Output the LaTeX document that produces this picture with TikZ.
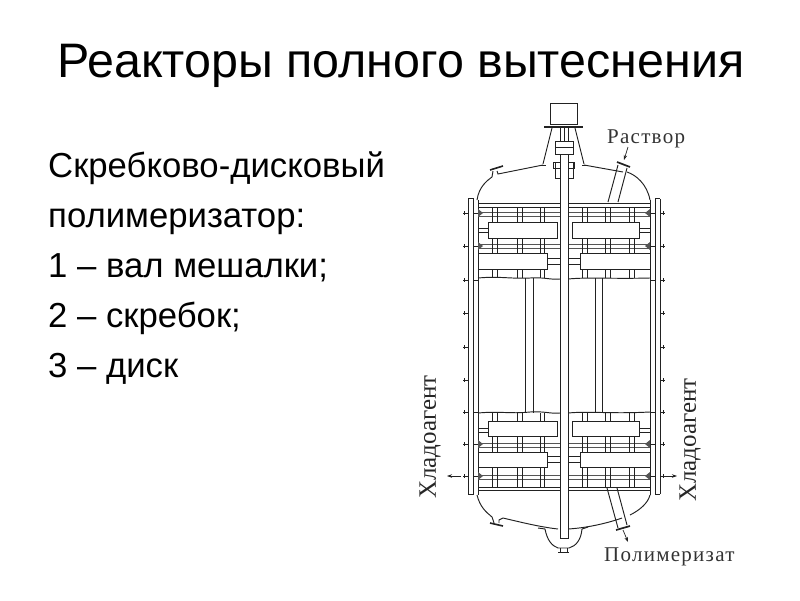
\documentclass[tikz,border=0pt]{standalone}
\usepackage{fontspec}
\setmainfont{Liberation Sans}
\newfontfamily\lblfont[LetterSpace=6]{Liberation Serif}
\newfontfamily\sidefont{Liberation Serif}
\definecolor{ink}{HTML}{222222}
\definecolor{soft}{HTML}{555555}
\usetikzlibrary{arrows.meta}
\tikzset{
  ln/.style={draw=ink,line width=0.95pt},
  thin ln/.style={draw=soft,line width=0.95pt},
  scraper/.style={draw=ink,line width=1pt,fill=white},
  titletext/.style={anchor=base west,inner sep=0pt,font=\fontsize{48.4}{48}\selectfont,text=black},
  bodytext/.style={anchor=base west,inner sep=0pt,font=\fontsize{34.7}{35}\selectfont,text=black},
  lbl/.style={inner sep=0pt,font=\lblfont\fontsize{21}{21}\selectfont,text=black!80},
  sidelbl/.style={inner sep=0pt,rotate=90,font=\sidefont\fontsize{25}{25}\selectfont,text=black!85},
  flow/.style={draw=ink,line width=0.7pt,-{Stealth[length=5pt,width=3.5pt]}},
}
\begin{document}
\begin{tikzpicture}[x=1pt,y=-1pt]
\useasboundingbox (0,0) rectangle (800,600);
\node[titletext] (title) at (57,77) {Реакторы полного вытеснения};
\node[bodytext] (b1) at (48,177) {Скребково-дисковый};
\node[bodytext] (b2) at (48,227) {полимеризатор:};
\node[bodytext] (b3) at (48,277) {1 – вал мешалки;};
\node[bodytext] (b4) at (48,327) {2 – скребок;};
\node[bodytext] (b5) at (48,377) {3 – диск};
\node[lbl,anchor=base west] (sol) at (607,143) {Раствор};
\node[lbl,anchor=base west] (pol) at (604,561) {Полимеризат};
\node[sidelbl] (cl) at (430,437) {Хладоагент};
\node[sidelbl] (cr) at (690,440) {Хладоагент};
% top of the shaft
\draw[ln] (550,103) rectangle (577,124);
\draw[ink,line width=2.6pt] (544,127) -- (583,127);
\draw[ln] (552,128) -- (543,164) (575,128) -- (584,164);
\draw[ln] (541,165) -- (546,165) (582,165) -- (587,165);
\draw[ln,fill=white] (555,141) rectangle (573,154);
\draw[ln] (555,147) -- (573,147);
\draw[ln] (560,128) -- (560,141) (564,128) -- (564,141) (568,128) -- (568,141);
\draw[ln] (553,162) rectangle (574,168);
\draw[ln] (555,162) rectangle (573,178);
% dome, top
\draw[ln] (477,200) .. controls (479,186) and (488,180) .. (492,177) -- (493,171);
\draw[ln] (497,171) -- (498,174) -- (503,173) -- (543,165);
\draw[ln] (584,165) -- (623,172);
\draw[ln] (627,172) .. controls (636,175) and (647,184) .. (650,200);
\draw[ln,line width=1.6pt] (490,170) -- (503,166);
\draw[ln] (608,202) -- (618,165) (618,202) -- (627,168);
\draw[ln,line width=1.7pt] (617,162) -- (630,167);
% dome, bottom
\draw[ln] (477,495) .. controls (480,507) and (486,512) .. (492,517) -- (494,523);
\draw[ln] (499,523) -- (499,520) -- (503,518) .. controls (520,522) and (540,527) .. (558,529);
\draw[ln] (568,529) .. controls (585,528) and (605,524) .. (622,518);
\draw[ln] (630,515) .. controls (640,510) and (648,503) .. (650,495);
\draw[ln,line width=1.6pt] (490,523) -- (503,526);
\draw[ln] (607,488) -- (618,528) (617,488) -- (627,525);
\draw[ln,line width=1.7pt] (616,530) -- (630,526);
\draw[ln] (538,528) -- (545,529) .. controls (547,540) and (552,546) .. (558,548) -- (569,548) .. controls (576,546) and (581,540) .. (582,529) -- (588,527);
\draw[ln] (558,552) -- (569,552) (560,548) -- (560,552) (567,548) -- (567,552);
% flanges
\foreach \a/\b/\c in {468/473/478,660/655/650}{
  \draw[ln] (\a,199) -- (\a,494) (\b,198) -- (\b,495) (\c,200) -- (\c,278) (\c,413) -- (\c,495);
  \draw[ln] (\a,198) -- (\b,198) (\a,494) -- (\b,494);
}
\draw[ln] (478,278) -- (478,413) (650,278) -- (650,413);
\foreach \y in {213,246,280,313,347,380,412,444,476}{
  \draw[ln] (463,\y) -- (468,\y) (660,\y) -- (665,\y);
  \draw[ln] (464,\y-2) -- (464,\y+2) (663,\y-2) -- (663,\y+2);
}
\foreach \y in {213,246,280,412,444,476}{
  \draw[ln] (473,\y) -- (478,\y) (650,\y) -- (655,\y);
}
% centre rods
\draw[ln] (525,278) -- (525,413) (533,278) -- (533,413);
\draw[ln] (595,278) -- (595,413) (602,278) -- (602,413);
% inner horizontal lines
\foreach \y in {203,207,487,490}{ \draw[ln] (478,\y) -- (560,\y) (568,\y) -- (650,\y); }
\foreach \y in {212,216,244,248,443,447,475,479}{ \draw[thin ln] (478,\y) -- (560,\y) (568,\y) -- (650,\y); }
\foreach \y in {228,232,428,432}{ \draw[ln] (478,\y) -- (488,\y) (639,\y) -- (650,\y); }
\foreach \y in {258,264,456,462}{ \draw[ln] (547,\y) -- (560,\y) (568,\y) -- (580,\y); }
% vertical rods
\foreach \x in {492,497,517,522,540,544,582,587,605,610,629,634}{
  \draw[ln] (\x,207) -- (\x,222) (\x,238) -- (\x,253) (\x,269) -- (\x,278);
  \draw[ln] (\x,413) -- (\x,421) (\x,436) -- (\x,452) (\x,467) -- (\x,487);
}
% scrapers
\foreach \t/\bb in {222/238,421/436}{
  \draw[scraper] (488,\t) rectangle (557,\bb);
  \draw[scraper] (572,\t) rectangle (639,\bb);
}
\foreach \t/\bb in {253/269,452/467}{
  \draw[scraper] (478,\t) rectangle (547,\bb);
  \draw[scraper] (580,\t) rectangle (650,\bb);
}
% bolts on the inner wall
\foreach \y in {213,246,444,476}{
  \fill[soft] (478,\y-4) -- (483,\y) -- (478,\y+4) -- cycle;
  \fill[soft] (650,\y-4) -- (645,\y) -- (650,\y+4) -- cycle;
}
% break lines
\draw[ln] (478,278) .. controls (500,276) and (510,279) .. (530,278) .. controls (545,277) and (550,280) .. (560,279) (568,279) .. controls (590,277) and (610,279) .. (650,278);
\draw[ln] (478,413) .. controls (500,411) and (510,414) .. (530,412) .. controls (545,411) and (550,414) .. (560,413) (568,413) .. controls (590,411) and (610,414) .. (650,412);
% shaft
\draw[ln,fill=white] (560,154) rectangle (568,538);
% arrows
\coordinate (a1) at (628,147); \coordinate (a2) at (624,160);
\coordinate (a3) at (623,530); \coordinate (a4) at (628,542);
\coordinate (a5) at (461,476); \coordinate (a6) at (447,476);
\coordinate (a7) at (665,476); \coordinate (a8) at (677,476);
\draw[flow] (a1) -- (a2);
\draw[flow] (a3) -- (a4);
\draw[flow] (a5) -- (a6);
\draw[flow] (a7) -- (a8);
\end{tikzpicture}
\end{document}
